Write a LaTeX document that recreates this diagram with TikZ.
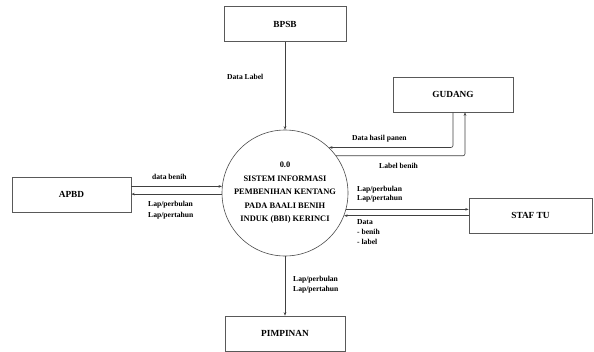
\documentclass[tikz,border=0pt]{standalone}
\usepackage{fontspec}
\setmainfont{Liberation Serif}
\usetikzlibrary{arrows.meta}
\begin{document}
\begin{tikzpicture}[x=1pt,y=-1pt,
  entity/.style={draw=black!65,line width=0.6pt,inner sep=0pt,minimum height=35pt,font=\bfseries\fontsize{9.3}{11}\selectfont},
  proc/.style={draw=black!70,line width=0.6pt,circle,inner sep=0pt,minimum size=126pt,align=center,font=\bfseries\fontsize{8.4}{13.5}\selectfont},
  flow/.style={draw=black!75,line width=0.6pt,-{Stealth[length=3.5pt,width=2.6pt]}},
  lbl/.style={anchor=west,inner sep=0pt,align=left,font=\bfseries\fontsize{7.6}{10}\selectfont}]
\useasboundingbox (0,0) rectangle (594,351);
\node[entity,minimum width=122pt] (bpsb) at (285,24) {BPSB};
\node[entity,minimum width=120pt] (gudang) at (453,94.5) {GUDANG};
\node[entity,minimum width=119pt] (apbd) at (71.5,194.5) {APBD};
\node[entity,minimum width=123pt] (staf) at (530.5,215.5) {STAF TU};
\node[entity,minimum width=120pt] (pimpinan) at (285,333.5) {PIMPINAN};
\node[proc] (circ) at (285,193) {0.0\\SISTEM INFORMASI\\PEMBENIHAN KENTANG\\PADA BAALI BENIH\\INDUK (BBI) KERINCI};
\coordinate (gin) at ([xshift=12pt]gudang.south);
\draw[flow] (bpsb.south) -- (circ.north);
\draw[flow,rounded corners=2pt] (gudang.south) |- (circ.46.9);
\draw[flow,rounded corners=2pt] (circ.36) -| (gin);
\draw[flow] (circ.174.5 -| apbd.east) -- (circ.174.5);
\draw[flow] (circ.181.8) -- (circ.181.8 -| apbd.east);
\draw[flow] (circ.-15.65) -- (circ.-15.65 -| staf.west);
\draw[flow] (circ.-21.4 -| staf.west) -- (circ.-21.4);
\draw[flow] (circ.south) -- (pimpinan.north);
\node[lbl] (l1) at (227,77) {Data Label};
\node[lbl] (l2) at (352,138.5) {Data hasil panen};
\node[lbl] (l3) at (379,165.5) {Label benih};
\node[lbl] (l4) at (152,177) {data benih};
\node[lbl,font=\bfseries\fontsize{7.6}{11.5}\selectfont] (l5) at (148,210) {Lap/perbulan\\Lap/pertahun};
\node[lbl,font=\bfseries\fontsize{7.6}{9.5}\selectfont] (l6) at (357,194) {Lap/perbulan\\Lap/pertahun};
\node[lbl] (l7) at (357,232) {Data\\- benih\\- label};
\node[lbl] (l8) at (293,285) {Lap/perbulan\\Lap/pertahun};
\end{tikzpicture}
\end{document}
